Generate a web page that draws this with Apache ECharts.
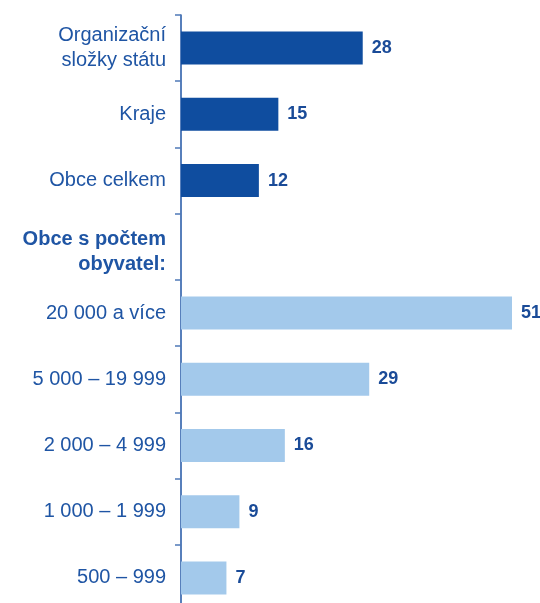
<!DOCTYPE html>
<html>
<head>
<meta charset="utf-8">
<script src="https://cdn.jsdelivr.net/npm/echarts@6/dist/echarts.min.js"></script>
<style>
    html, body { margin: 0; padding: 0; background: #fff; }
    #chart { width: 540px; height: 603px; }
</style>
</head>
<body>
<div id="chart"></div>
<script>
    // kategorie a hodnoty (header row has no bar)
    var categories = ['Organizační\nsložky státu', 'Kraje', 'Obce celkem', 'Obce s počtem\nobyvatel:',
        '20 000 a více', '5 000 – 19 999', '2 000 – 4 999', '1 000 – 1 999', '500 – 999'];
    var values = [28, 15, 12, '-', 51, 29, 16, 9, 7];
    var groups = ['dark', 'dark', 'dark', 'header', 'light', 'light', 'light', 'light', 'light'];

    var colors = { dark: '#0f4d9f', light: '#a3c9eb', header: 'transparent' };
    var textBlue = '#1f55a4';

    var seriesData = [];
    for (var i = 0; i < values.length; i++) {
        seriesData.push({ value: values[i], itemStyle: { color: colors[groups[i]] } });
    }

    var myChart = echarts.init(document.getElementById('chart'));
    myChart.setOption({
        animation: false,
        grid: {
            left: 181,
            width: 331,
            top: 15,
            height: 596,
            outerBoundsMode: 'none'
        },
        xAxis: {
            type: 'value',
            min: 0,
            max: 51,
            show: false
        },
        yAxis: {
            type: 'category',
            inverse: true,
            data: categories,
            axisLine: {
                lineStyle: { color: textBlue, width: 1.5 }
            },
            axisTick: {
                show: true,
                length: 6,
                lineStyle: { color: '#4f79b8', width: 1.5 }
            },
            axisLabel: {
                margin: 15,
                color: textBlue,
                fontFamily: 'Liberation Sans',
                fontSize: 20,
                lineHeight: 25,
                formatter: function (val) {
                    if (val.indexOf('obyvatel') >= 0) {
                        return '{b|' + val + '}';
                    }
                    return val;
                },
                rich: {
                    b: {
                        fontWeight: 'bold',
                        fontFamily: 'Liberation Sans',
                        fontSize: 20,
                        lineHeight: 25,
                        color: textBlue,
                        padding: [10, 0, 0, 0]
                    }
                }
            }
        },
        series: [{
            type: 'bar',
            data: seriesData,
            barWidth: 33,
            label: {
                show: true,
                position: 'right',
                distance: 9,
                color: '#1a4b98',
                fontFamily: 'Liberation Sans',
                fontWeight: 'bold',
                fontSize: 18
            }
        }]
    });
</script>
</body>
</html>
